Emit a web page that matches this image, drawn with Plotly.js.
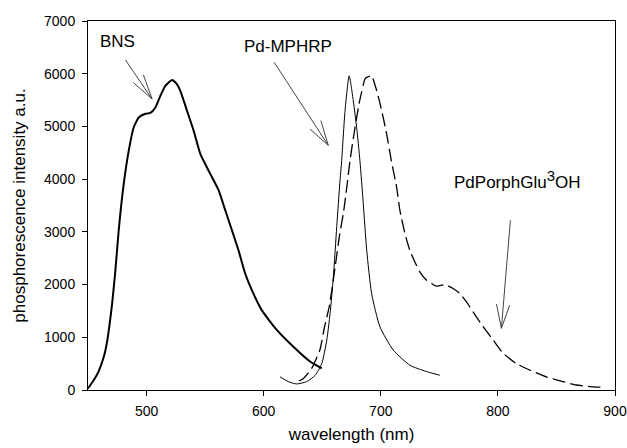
<!DOCTYPE html>
<html>
<head>
<meta charset="utf-8">
<script src="https://cdn.plot.ly/plotly-3.0.1.min.js"></script>
<style>
  html, body { margin: 0; padding: 0; background: #fff; }
  #chart { width: 627px; height: 448px; }
</style>
</head>
<body>
<div id="chart"></div>
<script>
// ---- Data ----
const bnsX = [450, 455, 459, 463.5, 466, 470.6, 473.4, 476.3, 480.5, 484.8, 489, 493.3, 499, 503.3, 507.5, 511.8, 516, 521.8, 526, 528.8, 534.5, 540.2, 545.9, 554.4, 561.5, 567.2, 572.9, 578.5, 584.2, 590, 598.5, 611.2, 625.4, 639.6, 649.6];
const bnsY = [30, 190, 350, 630, 880, 1640, 2270, 3050, 3910, 4540, 4980, 5170, 5240, 5255, 5360, 5580, 5770, 5880, 5800, 5680, 5300, 4920, 4480, 4100, 3790, 3410, 3030, 2650, 2210, 1890, 1510, 1140, 820, 540, 410];

const mphrpX = [614, 621, 628, 636.8, 644, 649.6, 653.9, 656.7, 659.5, 662.4, 665, 666.6, 669.5, 673, 676.5, 679.4, 682.2, 685, 688, 692.2, 699.3, 710.6, 724.9, 739, 750.4];
const mphrpY = [250, 160, 115, 160, 280, 500, 950, 1450, 2140, 3100, 3920, 4350, 5300, 5960, 5490, 4980, 4350, 3550, 2650, 1830, 1200, 760, 470, 350, 280];

const porphX = [630, 634, 641, 648, 652, 656, 661, 665, 668, 671, 673.7, 678, 682, 686.5, 688, 692, 696.5, 700.8, 705, 709, 713.5, 716.3, 720.6, 724.8, 729.1, 733.3, 739.1, 743.4, 747.6, 752, 756.1, 761.8, 767.5, 773.2, 778.8, 787.4, 795.9, 804.4, 815.8, 827, 841.3, 855.5, 867, 881, 891];
const porphY = [170, 220, 410, 760, 1200, 1580, 2330, 2970, 3340, 3850, 4350, 4980, 5490, 5900, 5930, 5960, 5680, 5300, 4860, 4350, 3850, 3410, 2970, 2650, 2430, 2240, 2080, 2020, 1970, 1990, 1990, 1925, 1830, 1670, 1480, 1200, 950, 700, 500, 380, 250, 160, 95, 60, 50];

const xTicks = [500, 600, 700, 800, 900];
const yTicks = [0, 1000, 2000, 3000, 4000, 5000, 6000, 7000];

const FONT = 'Liberation Sans, Arial, sans-serif';

const traces = [
  { x: bnsX, y: bnsY, type: 'scatter', mode: 'lines', name: 'BNS',
    line: { color: '#000', width: 2, shape: 'spline', smoothing: 0.5 } },
  { x: mphrpX, y: mphrpY, type: 'scatter', mode: 'lines', name: 'Pd-MPHRP',
    line: { color: '#000', width: 1, shape: 'spline', smoothing: 0.6 } },
  { x: porphX, y: porphY, type: 'scatter', mode: 'lines', name: 'PdPorphGlu3OH',
    line: { color: '#000', width: 1.3, dash: '13px,5px', shape: 'spline', smoothing: 0.5 } }
];

function arrow(x0, y0, x1, y1, h1x, h1y, h2x, h2y) {
  const st = { color: '#444', width: 1 };
  return [
    { type: 'line', xref: 'x', yref: 'y', x0: x0, y0: y0, x1: x1, y1: y1, line: st },
    { type: 'line', xref: 'x', yref: 'y', x0: h1x, y0: h1y, x1: x1, y1: y1, line: st },
    { type: 'line', xref: 'x', yref: 'y', x0: h2x, y0: h2y, x1: x1, y1: y1, line: st }
  ];
}

const shapes = [].concat(
  arrow(482, 6260, 504.7, 5520, 488.8, 5830, 497.3, 5980),
  arrow(609, 6215, 655.2, 4640, 639.6, 4950, 648.8, 5110),
  arrow(810.7, 3220, 803, 1170, 798.8, 1630, 810.1, 1610)
);

const annotations = [
  { x: 474.9, y: 6610, xref: 'x', yref: 'y', text: 'BNS', showarrow: false,
    font: { family: FONT, size: 17, color: '#000' } },
  { x: 620.9, y: 6510, xref: 'x', yref: 'y', text: 'Pd-MPHRP', showarrow: false,
    font: { family: FONT, size: 17, color: '#000' } },
  { x: 816.6, y: 4000, xref: 'x', yref: 'y', text: 'PdPorphGlu<sup><span style="font-size:15px">3</span></sup>OH', showarrow: false,
    font: { family: FONT, size: 17, color: '#000' } }
];

const layout = {
  width: 627, height: 448,
  margin: { l: 87.5, r: 11.5, t: 20.5, b: 58, pad: 0 },
  paper_bgcolor: '#fff', plot_bgcolor: '#fff',
  showlegend: false,
  font: { family: FONT, color: '#000' },
  xaxis: {
    range: [450, 900], tickmode: 'array', tickvals: xTicks, ticktext: xTicks.map(String),
    ticks: 'outside', ticklen: 5, tickcolor: '#000', tickwidth: 1,
    showline: true, linecolor: '#000', linewidth: 1, mirror: true,
    showgrid: false, zeroline: false,
    tickfont: { family: FONT, size: 14, color: '#000' },
    ticklabelstandoff: 3,
    title: { text: 'wavelength (nm)', font: { family: FONT, size: 17, color: '#000' }, standoff: 10 }
  },
  yaxis: {
    range: [0, 7000], tickmode: 'array', tickvals: yTicks, ticktext: yTicks.map(String),
    ticks: 'outside', ticklen: 5, tickcolor: '#000', tickwidth: 1,
    showline: true, linecolor: '#000', linewidth: 1, mirror: true,
    showgrid: false, zeroline: false,
    tickfont: { family: FONT, size: 14, color: '#000' },
    ticklabelstandoff: 4,
    title: { text: 'phosphorescence intensity a.u.', font: { family: FONT, size: 17, color: '#000' }, standoff: 14 }
  },
  shapes: shapes,
  annotations: annotations
};

Plotly.newPlot('chart', traces, layout, { displayModeBar: false, staticPlot: true });
</script>
</body>
</html>
